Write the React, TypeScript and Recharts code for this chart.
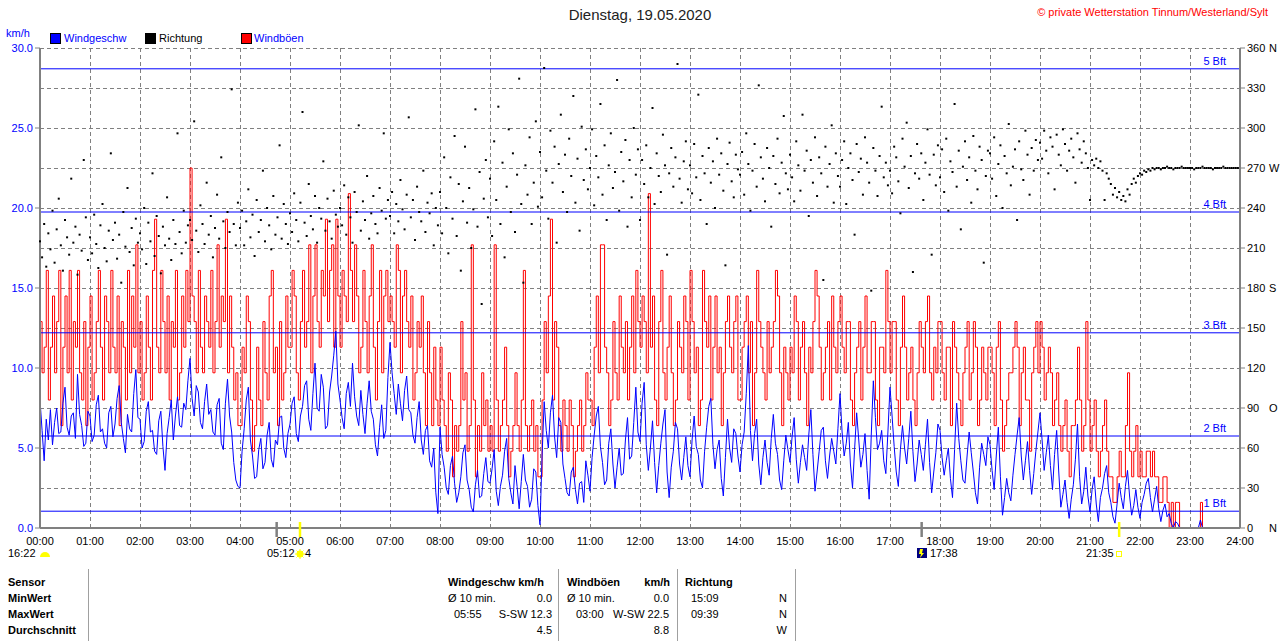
import React from 'react';
import {
  ComposedChart,
  Line,
  Scatter,
  XAxis,
  YAxis,
  CartesianGrid,
  ReferenceLine
} from 'recharts';

// Windgeschwindigkeit km/h, alle 2,5 Minuten ab 00:00 (eine Zeile = eine Stunde)
const speedKmh: (number | null)[] = [
  8.0, 6.1, 4.2, 6.8, 5.5, 7.4, 5.2, 6.6, 7.5, 5.9, 6.0, 7.8, 8.8, 6.3, 5.8, 7.0, 7.2, 5.6, 9.6, 7.1, 6.4, 5.1, 5.3, 7.3,
  7.0, 5.4, 5.8, 7.7, 8.3, 6.0, 6.2, 5.3, 5.0, 7.2, 7.6, 5.7, 6.5, 8.1, 8.9, 6.6, 5.6, 4.7, 7.1, 6.2, 6.0, 8.4, 9.9, 6.9,
  6.8, 5.0, 5.4, 7.3, 7.9, 6.0, 6.1, 4.8, 4.6, 6.7, 7.3, 5.1, 3.6, 5.9, 6.9, 8.0, 5.5, 7.0, 8.2, 6.4, 6.3, 7.8, 7.4, 9.2,
  10.6, 8.1, 7.0, 8.9, 8.5, 6.6, 6.2, 7.9, 9.0, 7.1, 7.4, 6.0, 5.8, 7.7, 8.1, 5.3, 4.9, 7.8, 9.3, 7.0, 6.0, 4.1, 3.0, 2.6,
  2.5, 4.8, 6.2, 8.0, 8.8, 5.5, 4.5, 3.1, 3.2, 4.9, 5.6, 3.7, 4.1, 5.8, 6.6, 4.3, 3.8, 5.5, 5.2, 6.9, 7.0, 5.0, 4.4, 5.9,
  6.5, 7.8, 8.2, 5.9, 5.4, 7.0, 7.6, 8.9, 9.2, 6.8, 6.1, 8.4, 10.3, 7.5, 7.3, 9.6, 8.8, 6.2, 6.4, 8.5, 9.5, 10.8, 12.3, 9.0,
  8.0, 6.9, 6.2, 8.4, 9.1, 7.6, 10.3, 8.2, 7.0, 6.4, 8.6, 7.1, 5.9, 7.8, 9.2, 7.3, 6.8, 5.2, 4.5, 6.3, 7.7, 5.6, 6.1, 9.4,
  11.6, 9.7, 8.4, 7.1, 9.0, 7.8, 6.7, 8.6, 9.5, 7.4, 7.2, 5.8, 5.3, 6.9, 7.9, 5.5, 4.6, 6.1, 6.4, 4.2, 3.8, 5.0, 2.2, 0.9,
  6.3, 4.6, 3.8, 2.5, 2.1, 3.9, 4.5, 2.8, 1.6, 2.2, 3.2, 4.7, 5.2, 3.0, 2.4, 1.3, 1.0, 2.7, 3.6, 1.9, 2.0, 3.4, 4.4, 2.9,
  2.8, 3.7, 4.9, 2.3, 1.4, 2.6, 3.3, 4.8, 5.6, 3.1, 2.2, 1.5, 3.9, 2.6, 1.2, 2.9, 4.6, 3.0, 2.6, 1.3, 1.8, 3.7, 3.5, 1.4,
  0.2, 4.5, 7.9, 6.1, 5.0, 7.2, 8.3, 5.7, 4.4, 6.9, 6.6, 4.0, 3.1, 2.2, 2.0, 3.5, 3.8, 2.4, 1.5, 2.8, 2.9, 1.6, 4.2, 3.3,
  2.3, 4.4, 5.8, 7.0, 7.6, 5.1, 4.1, 2.7, 3.0, 5.3, 6.2, 4.0, 2.5, 3.8, 5.0, 3.3, 3.4, 5.5, 6.9, 4.3, 4.5, 6.6, 8.8, 6.0,
  5.4, 7.8, 9.1, 5.2, 3.6, 5.0, 6.7, 4.1, 2.2, 3.9, 5.3, 6.5, 7.4, 3.5, 1.9, 3.8, 4.8, 6.6, 6.2, 4.0, 3.0, 4.4, 5.7, 3.9,
  3.2, 5.5, 7.0, 5.1, 4.6, 3.0, 2.5, 4.8, 6.3, 7.6, 8.1, 5.2, 3.7, 4.9, 5.5, 3.1, 2.0, 4.4, 6.8, 5.0, 4.1, 6.2, 5.9, 4.5,
  3.5, 5.2, 6.0, 8.4, 11.4, 6.1, 4.2, 5.9, 6.8, 4.0, 2.7, 4.4, 5.5, 4.1, 3.3, 5.6, 7.1, 5.3, 4.6, 3.0, 2.4, 4.2, 5.8, 4.9,
  4.1, 5.7, 6.9, 4.3, 2.8, 4.1, 5.2, 4.4, 3.6, 5.8, 7.4, 4.6, 2.3, 3.5, 4.8, 6.1, 6.3, 4.2, 3.1, 4.5, 5.6, 4.8, 4.0, 6.2,
  8.4, 6.0, 4.5, 5.3, 6.6, 4.0, 2.5, 4.9, 7.2, 5.5, 3.8, 4.6, 5.9, 3.6, 1.8, 5.8, 9.2, 6.9, 4.9, 5.3, 6.1, 4.2, 3.4, 6.0,
  8.8, 7.0, 5.1, 3.5, 2.6, 4.9, 6.4, 5.0, 4.0, 5.6, 7.3, 4.8, 2.9, 4.0, 5.5, 4.6, 3.6, 5.2, 6.8, 4.1, 2.2, 3.5, 4.7, 6.5,
  6.1, 4.4, 3.3, 4.2, 5.0, 3.1, 1.9, 4.9, 7.8, 5.6, 4.2, 3.0, 2.8, 4.5, 6.0, 4.7, 3.5, 2.2, 1.5, 3.8, 5.3, 4.6, 3.9, 5.7,
  5.2, 3.6, 2.4, 4.5, 6.3, 3.2, 0.8, 1.9, 3.1, 2.2, 1.7, 3.3, 4.6, 5.8, 6.9, 4.5, 3.0, 4.2, 5.4, 3.6, 2.1, 3.4, 4.8, 6.0,
  7.2, 5.5, 3.6, 4.7, 5.8, 3.9, 2.4, 4.6, 6.1, 3.5, 1.3, 2.1, 3.0, 1.6, 0.6, 1.8, 2.7, 4.3, 6.5, 3.2, 1.5, 2.3, 3.8, 2.0,
  1.0, 2.4, 3.2, 1.5, 0.4, 1.9, 2.5, 3.4, 3.9, 2.2, 1.6, 0.7, 0.3, 1.5, 2.8, 1.9, 1.2, 2.6, 3.6, 2.0, 0.8, 1.4, 2.4, 1.3,
  0.6, 1.6, 2.1, 2.8, 3.1, 1.9, 1.0, 1.8, 2.6, 1.2, 0.4, 1.1, 1.5, 0.7, 0.9, 0.3, 0.0, 0.4, 0.3, 0.0, 0.0, null, null, null,
  null, null, null, null, 0.0, 0.5, 0.0, null, null, null, null, null, null, null, null, null, null, null, null, null, null, null, null, null
];

// Windböen km/h, alle 2,5 Minuten ab 00:00
const gustKmh: (number | null)[] = [
  12.9, 9.7, 11.3, 16.1, 8.0, 11.3, 14.5, 9.7, 12.9, 16.1, 6.4, 11.3, 14.5, 9.7, 16.1, 8.0, 12.9, 11.3, 16.1, 9.7, 8.0, 12.9, 6.4, 11.3,
  14.5, 8.0, 9.7, 12.9, 16.1, 11.3, 8.0, 14.5, 12.9, 9.7, 16.1, 11.3, 9.7, 14.5, 6.4, 12.9, 11.3, 8.0, 16.1, 9.7, 14.5, 11.3, 17.7, 9.7,
  12.9, 8.0, 9.7, 14.5, 11.3, 8.0, 16.1, 19.3, 11.3, 9.7, 16.1, 12.9, 9.7, 14.5, 8.0, 12.9, 11.3, 16.1, 8.0, 9.7, 14.5, 11.3, 16.1, 12.9,
  22.5, 14.5, 12.9, 9.7, 16.1, 11.3, 9.7, 14.5, 12.9, 11.3, 16.1, 9.7, 12.9, 17.7, 11.3, 14.5, 12.9, 19.3, 9.7, 14.5, 11.3, 8.0, 9.7, 6.4,
  6.4, 11.3, 9.7, 14.5, 12.9, 8.0, 4.8, 6.4, 11.3, 8.0, 6.4, 12.9, 9.7, 8.0, 14.5, 16.1, 9.7, 11.3, 6.4, 12.9, 8.0, 9.7, 14.5, 11.3,
  11.3, 16.1, 14.5, 9.7, 8.0, 12.9, 16.1, 11.3, 12.9, 17.7, 9.7, 14.5, 17.7, 12.9, 11.3, 16.1, 14.5, 19.3, 12.9, 16.1, 17.7, 11.3, 19.3, 14.5,
  11.3, 16.1, 14.5, 12.9, 20.9, 16.1, 12.9, 17.7, 14.5, 9.7, 11.3, 16.1, 12.9, 9.7, 14.5, 17.7, 11.3, 8.0, 12.9, 16.1, 9.7, 14.5, 16.1, 12.9,
  14.5, 12.9, 11.3, 17.7, 16.1, 9.7, 14.5, 16.1, 12.9, 11.3, 14.5, 8.0, 9.7, 12.9, 11.3, 14.5, 9.7, 6.4, 12.9, 9.7, 6.4, 11.3, 8.0, 6.4,
  11.3, 8.0, 6.4, 4.8, 9.7, 8.0, 3.2, 6.4, 4.8, 6.4, 12.9, 8.0, 9.7, 4.8, 6.4, 17.7, 8.0, 3.2, 6.4, 4.8, 9.7, 6.4, 8.0, 4.8,
  6.4, 4.8, 17.7, 8.0, 4.8, 6.4, 8.0, 11.3, 6.4, 3.2, 4.8, 6.4, 9.7, 6.4, 4.8, 8.0, 16.1, 6.4, 4.8, 6.4, 8.0, 4.8, 6.4, 3.2,
  3.2, 8.0, 12.9, 9.7, 14.5, 19.3, 8.0, 12.9, 11.3, 6.4, 4.8, 8.0, 6.4, 4.8, 8.0, 6.4, 3.2, 4.8, 6.4, 8.0, 4.8, 6.4, 9.7, 8.0,
  8.0, 6.4, 11.3, 14.5, 9.7, 17.7, 17.7, 11.3, 9.7, 6.4, 8.0, 12.9, 9.7, 8.0, 14.5, 11.3, 9.7, 12.9, 8.0, 11.3, 14.5, 9.7, 16.1, 12.9,
  11.3, 14.5, 12.9, 9.7, 20.9, 11.3, 14.5, 8.0, 6.4, 12.9, 16.1, 9.7, 8.0, 11.3, 14.5, 9.7, 6.4, 8.0, 12.9, 11.3, 9.7, 14.5, 12.9, 8.0,
  16.1, 12.9, 9.7, 11.3, 6.4, 8.0, 16.1, 12.9, 11.3, 14.5, 8.0, 11.3, 14.5, 9.7, 11.3, 6.4, 9.7, 12.9, 14.5, 11.3, 9.7, 12.9, 14.5, 8.0,
  8.0, 11.3, 12.9, 14.5, 9.7, 12.9, 6.4, 9.7, 16.1, 12.9, 11.3, 9.7, 8.0, 12.9, 9.7, 11.3, 12.9, 16.1, 14.5, 9.7, 6.4, 11.3, 9.7, 8.0,
  11.3, 9.7, 14.5, 12.9, 8.0, 11.3, 12.9, 9.7, 6.4, 11.3, 9.7, 12.9, 16.1, 14.5, 11.3, 8.0, 9.7, 11.3, 12.9, 8.0, 14.5, 11.3, 9.7, 12.9,
  14.5, 11.3, 9.7, 12.9, 12.9, 8.0, 6.4, 9.7, 11.3, 12.9, 8.0, 11.3, 14.5, 9.7, 9.7, 12.9, 12.9, 8.0, 6.4, 11.3, 11.3, 9.7, 16.1, 12.9,
  9.7, 12.9, 12.9, 8.0, 6.4, 11.3, 14.5, 11.3, 8.0, 9.7, 11.3, 8.0, 6.4, 9.7, 12.9, 11.3, 9.7, 12.9, 14.5, 9.7, 8.0, 11.3, 9.7, 12.9,
  12.9, 9.7, 8.0, 11.3, 11.3, 6.4, 12.9, 11.3, 9.7, 8.0, 6.4, 9.7, 11.3, 12.9, 8.0, 9.7, 12.9, 11.3, 6.4, 8.0, 11.3, 9.7, 8.0, 11.3,
  11.3, 9.7, 6.4, 11.3, 12.9, 8.0, 4.8, 6.4, 8.0, 9.7, 9.7, 11.3, 12.9, 11.3, 6.4, 9.7, 11.3, 8.0, 8.0, 4.8, 9.7, 11.3, 12.9, 9.7,
  12.9, 11.3, 8.0, 9.7, 11.3, 9.7, 6.4, 8.0, 9.7, 6.4, 4.8, 6.4, 8.0, 4.8, 3.2, 6.4, 6.4, 8.0, 11.3, 8.0, 4.8, 6.4, 12.9, 8.0,
  4.8, 6.4, 8.0, 4.8, 3.2, 4.8, 6.4, 8.0, 4.8, 3.2, 3.2, 1.6, 1.6, 3.2, 4.8, 3.2, 3.2, 6.4, 9.7, 4.8, 3.2, 4.8, 6.4, 3.2,
  4.8, 3.2, 3.2, 4.8, 4.8, 3.2, 4.8, 3.2, 3.2, 1.6, 1.6, 3.2, 3.2, 1.6, 0.0, 1.6, 0.0, 1.6, 1.6, 0.0, 0.0, null, null, null,
  null, null, null, null, 0.0, 1.6, 0.0, null, null, null, null, null, null, null, null, null, null, null, null, null, null, null, null, null
];

// Windrichtung in Grad, alle 2,5 Minuten ab 00:00
const directionDeg: number[] = [
  215, 203, 228, 196, 221, 209, 238, 199, 224, 247, 212, 193, 231, 218, 205, 262, 214, 226, 190, 220, 208, 276, 233, 201,
  218, 206, 235, 213, 195, 227, 243, 210, 200, 223, 281, 216, 229, 202, 220, 184, 237, 211, 255, 207, 225, 197, 232, 214,
  221, 209, 240, 198, 229, 215, 266, 204, 234, 219, 191, 226, 212, 248, 217, 201, 231, 213, 296, 222, 206, 238, 214, 227,
  231, 216, 305, 223, 207, 242, 228, 213, 259, 220, 234, 203, 225, 250, 217, 278, 230, 210, 237, 222, 329, 228, 212, 244,
  225, 238, 212, 230, 254, 218, 235, 204, 246, 222, 231, 268, 215, 240, 227, 209, 249, 220, 233, 287, 217, 243, 228, 213,
  236, 222, 251, 231, 215, 244, 312, 229, 219, 258, 234, 224, 249, 214, 240, 232, 275, 223, 247, 230, 217, 253, 235, 226,
  240, 227, 257, 220, 248, 233, 214, 252, 237, 302, 223, 245, 231, 264, 217, 236, 249, 228, 221, 255, 238, 296, 232, 246,
  234, 252, 221, 243, 230, 261, 239, 224, 250, 308, 233, 246, 216, 256, 237, 230, 268, 222, 244, 236, 251, 212, 240, 227,
  252, 221, 278, 240, 206, 263, 232, 294, 219, 258, 193, 245, 286, 229, 255, 210, 239, 314, 226, 267, 168, 247, 276, 233,
  262, 219, 290, 246, 316, 228, 274, 203, 256, 299, 237, 281, 222, 265, 337, 243, 184, 272, 250, 293, 228, 259, 305, 241,
  282, 248, 345, 268, 232, 298, 259, 286, 214, 273, 310, 252, 280, 237, 292, 264, 324, 244, 277, 223, 301, 261, 284, 254,
  270, 299, 242, 279, 263, 318, 250, 287, 231, 272, 296, 255, 267, 336, 238, 282, 260, 291, 226, 276, 248, 300, 265, 284,
  231, 276, 258, 287, 248, 270, 315, 243, 281, 264, 252, 295, 272, 205, 266, 285, 256, 278, 348, 262, 244, 275, 290, 254,
  272, 251, 288, 263, 325, 246, 279, 266, 228, 285, 259, 275, 240, 292, 265, 281, 253, 197, 273, 289, 260, 248, 280, 269,
  265, 282, 250, 296, 273, 238, 268, 288, 256, 332, 278, 262, 245, 285, 270, 226, 279, 258, 292, 251, 274, 309, 266, 254,
  280, 263, 245, 290, 272, 253, 310, 268, 283, 234, 276, 259, 293, 249, 278, 266, 186, 286, 256, 273, 302, 244, 281, 264,
  256, 276, 290, 243, 270, 281, 261, 220, 288, 267, 277, 250, 293, 274, 259, 178, 285, 268, 249, 279, 316, 263, 274, 257,
  268, 251, 286, 278, 260, 236, 292, 271, 304, 255, 279, 192, 266, 288, 262, 281, 246, 274, 299, 265, 205, 280, 257, 287,
  263, 284, 252, 292, 238, 275, 267, 318, 256, 283, 224, 271, 290, 261, 278, 244, 294, 268, 254, 286, 276, 199, 264, 283,
  281, 262, 293, 249, 273, 287, 240, 279, 266, 303, 257, 271, 284, 231, 290, 269, 261, 298, 280, 250, 285, 268, 291, 276,
  289, 277, 298, 283, 266, 293, 286, 254, 295, 280, 272, 299, 288, 268, 283, 292, 278, 259, 296, 284, 274, 290, 281, 270,
  246, 276, 272, 277, 270, 275, 268, 246, 266, 262, 258, 250, 255, 248, 252, 246, 249, 245, 254, 250, 258, 262, 259, 264,
  266, 265, 268, 267, 269, 268, 270, 269, 270, 270, 269, 270, 270, 271, 270, 270, 269, 270, 270, 270, 271, 270, 270, 270,
  270, 270, 269, 270, 270, 270, 271, 270, 270, 270, 270, 269, 270, 270, 270, 270, 271, 270, 270, 270, 270, 270, 270, 270
];

const hourTicks = [0, 60, 120, 180, 240, 300, 360, 420, 480, 540, 600, 660, 720, 780, 840, 900, 960, 1020, 1080, 1140, 1200, 1260, 1320, 1380, 1440];
const speedTicks = [0, 5, 10, 15, 20, 25, 30];
const dirTicks = [0, 30, 60, 90, 120, 150, 180, 210, 240, 270, 300, 330, 360];
const dirNames: Record<number, string> = { 0: 'N', 90: 'O', 180: 'S', 270: 'W', 360: 'N' };

const beaufortNames = ['1 Bft', '2 Bft', '3 Bft', '4 Bft', '5 Bft'];
const beaufortKmh = [1.05, 5.75, 12.2, 19.75, 28.7];

// Sonne/Mond Auf- und Untergang (Minuten)
const astroTimes = [284, 312, 1058, 1295];

const speedData = speedKmh.map((v, i) => ({ t: i * 2.5, v }));
const gustData = gustKmh.map((v, i) => ({ t: i * 2.5, v }));
const dirData = directionDeg.map((d, i) => ({ t: i * 2.5, d }));

const W = 1280;
const H = 641;
const CHART_H = 570;
const PLOT_L = 40;
const PLOT_R = 1240;
const FONT = '"Liberation Sans", Arial, sans-serif';
const GRAY = '#808080';
const BLUE = '#0000ff';

const tx = (m: number) => PLOT_L + (m / 1440) * (PLOT_R - PLOT_L);
const fmtHour = (v: number) => `${String(Math.floor(v / 60)).padStart(2, '0')}:00`;

const DirDot = (props: any) => {
  const { cx, cy } = props;
  if (cx == null || cy == null) return null;
  return <rect x={cx - 1} y={cy - 1} width={2} height={2} fill="#000" />;
};

const DirTick = (props: any) => {
  const { x, y, payload } = props;
  const name = dirNames[payload.value];
  return (
    <g>
      <text x={x} y={y + 4} fontSize={11} fill="#000">{payload.value}</text>
      {name && <text x={x + 22} y={y + 4} fontSize={11} fill="#000">{name}</text>}
    </g>
  );
};

const bftLabel = (text: string) => (props: any) => {
  const vb = props.viewBox || {};
  return (
    <text x={(vb.x || 0) + (vb.width || 0) - 14} y={(vb.y || 0) - 4} textAnchor="end" fontSize={11} fill={BLUE}>
      {text}
    </text>
  );
};

const txt = (left: number, top: number, s: string, style: React.CSSProperties = {}) => (
  <div style={{ position: 'absolute', left, top, fontSize: 11, lineHeight: '12px', whiteSpace: 'nowrap', ...style }}>{s}</div>
);

const txtR = (right: number, top: number, s: string, style: React.CSSProperties = {}) => (
  <div style={{ position: 'absolute', left: right - 400, width: 400, textAlign: 'right', top, fontSize: 11, lineHeight: '12px', whiteSpace: 'nowrap', ...style }}>{s}</div>
);

const LegendBox = ({ left, color }: { left: number; color: string }) => (
  <div style={{ position: 'absolute', left, top: 33, width: 9, height: 9, background: color, border: '1px solid #000' }} />
);

export default function App() {
  return (
    <div style={{ position: 'absolute', left: 0, top: 0, width: W, height: H, background: '#fff', fontFamily: FONT, color: '#000', overflow: 'hidden' }}>
      <div style={{ position: 'absolute', left: 0, top: 0 }}>
        <ComposedChart width={W} height={CHART_H} margin={{ top: 48, right: 0, bottom: 0, left: 0 }}>
          <CartesianGrid yAxisId="dir" stroke={GRAY} strokeDasharray="4 3" shapeRendering="crispEdges" />
          <XAxis
            type="number"
            dataKey="t"
            domain={[0, 1440]}
            ticks={hourTicks}
            interval={0}
            tickFormatter={fmtHour}
            height={42}
            tickLine={false}
            tickMargin={3}
            axisLine={{ stroke: GRAY, strokeWidth: 2 }}
            tick={{ fill: '#000', fontSize: 11 }}
          />
          <XAxis
            xAxisId="top"
            orientation="top"
            type="number"
            domain={[0, 1440]}
            height={0}
            tick={false}
            tickLine={false}
            axisLine={{ stroke: GRAY, strokeWidth: 2 }}
          />
          <YAxis
            yAxisId="kmh"
            domain={[0, 30]}
            ticks={speedTicks}
            interval={0}
            width={40}
            tickFormatter={(v: number) => v.toFixed(1)}
            tick={{ fill: BLUE, fontSize: 11 }}
            tickSize={5}
            tickMargin={2}
            tickLine={{ stroke: GRAY }}
            axisLine={{ stroke: GRAY, strokeWidth: 2 }}
          />
          <YAxis
            yAxisId="dir"
            orientation="right"
            dataKey="d"
            domain={[0, 360]}
            ticks={dirTicks}
            interval={0}
            width={40}
            tick={<DirTick />}
            tickSize={5}
            tickMargin={2}
            tickLine={{ stroke: GRAY }}
            axisLine={{ stroke: GRAY, strokeWidth: 2 }}
          />
          <Scatter yAxisId="dir" data={dirData} dataKey="d" shape={<DirDot />} isAnimationActive={false} />
          <Line
            yAxisId="kmh"
            data={gustData}
            dataKey="v"
            type="stepAfter"
            stroke="#ff0000"
            strokeWidth={1}
            dot={false}
            isAnimationActive={false}
          />
          <Line
            yAxisId="kmh"
            data={speedData}
            dataKey="v"
            type="linear"
            stroke={BLUE}
            strokeWidth={1}
            dot={false}
            isAnimationActive={false}
          />
          {beaufortKmh.map((k, i) => (
            <ReferenceLine key={beaufortNames[i]} yAxisId="kmh" y={k} stroke={BLUE} strokeWidth={1} label={bftLabel(beaufortNames[i])} />
          ))}
        </ComposedChart>
      </div>

      {/* Titel, Copyright, Legende */}
      <div style={{ position: 'absolute', left: 0, width: W, top: 6, textAlign: 'center', fontSize: 15, color: '#222' }}>Dienstag, 19.05.2020</div>
      {txtR(1268, 6, '© private Wetterstation Tinnum/Westerland/Sylt', { color: '#ff0000' })}
      {txt(6, 27, 'km/h', { color: BLUE })}
      <LegendBox left={50} color={BLUE} />
      {txt(64, 32, 'Windgeschw', { color: BLUE })}
      <LegendBox left={145} color="#000" />
      {txt(159, 32, 'Richtung')}
      <LegendBox left={241} color="#ff0000" />
      {txt(254, 32, 'Windböen', { color: BLUE })}

      {/* Sonne und Mond */}
      <svg width={W} height={H} style={{ position: 'absolute', left: 0, top: 0, pointerEvents: 'none' }}>
        {astroTimes.map((m, i) => (
          <line key={m} x1={tx(m)} x2={tx(m)} y1={522} y2={537} stroke={i % 2 === 0 ? GRAY : '#ffff00'} strokeWidth={2.5} />
        ))}
        <path d="M40 557 A5 5 0 0 1 50 557 Z" fill="#ffff00" />
        <g stroke="#ffff00" strokeWidth={1}>
          <line x1={295} y1={554} x2={305} y2={554} />
          <line x1={300} y1={549} x2={300} y2={559} />
          <line x1={296.5} y1={550.5} x2={303.5} y2={557.5} />
          <line x1={303.5} y1={550.5} x2={296.5} y2={557.5} />
        </g>
        <circle cx={300} cy={554} r={3.5} fill="#ffff00" />
        <rect x={917} y={548} width={10} height={10} fill="#000080" />
        <path d="M920 549 L923 549 L922 553 L924 553 L920 558 L921 554 L919 554 Z" fill="#ffff00" />
        <rect x={1116.5} y={551.5} width={5} height={5} fill="none" stroke="#ffff00" strokeWidth={1} />
      </svg>
      {txt(8, 547, '16:22')}
      {txt(267, 547, '05:12')}
      {txt(305, 547, '4')}
      {txt(930, 547, '17:38')}
      {txt(1086, 547, '21:35')}

      {/* Tabelle */}
      {[88, 558, 677, 795].map((x) => (
        <div key={x} style={{ position: 'absolute', left: x, top: 569, width: 1, height: 72, background: '#a0a0a0' }} />
      ))}
      {txt(8, 576, 'Sensor', { fontWeight: 'bold' })}
      {txt(8, 592, 'MinWert', { fontWeight: 'bold' })}
      {txt(8, 608, 'MaxWert', { fontWeight: 'bold' })}
      {txt(8, 624, 'Durchschnitt', { fontWeight: 'bold' })}

      {txt(448, 576, 'Windgeschw km/h', { fontWeight: 'bold' })}
      {txt(448, 592, 'Ø 10 min.')}
      {txtR(552, 592, '0.0')}
      {txt(454, 608, '05:55')}
      {txtR(552, 608, 'S-SW 12.3')}
      {txtR(552, 624, '4.5')}

      {txt(567, 576, 'Windböen', { fontWeight: 'bold' })}
      {txtR(670, 576, 'km/h', { fontWeight: 'bold' })}
      {txt(567, 592, 'Ø 10 min.')}
      {txtR(669, 592, '0.0')}
      {txt(576, 608, '03:00')}
      {txtR(669, 608, 'W-SW 22.5')}
      {txtR(669, 624, '8.8')}

      {txt(685, 576, 'Richtung', { fontWeight: 'bold' })}
      {txt(691, 592, '15:09')}
      {txtR(787, 592, 'N')}
      {txt(691, 608, '09:39')}
      {txtR(787, 608, 'N')}
      {txtR(787, 624, 'W')}
    </div>
  );
}
